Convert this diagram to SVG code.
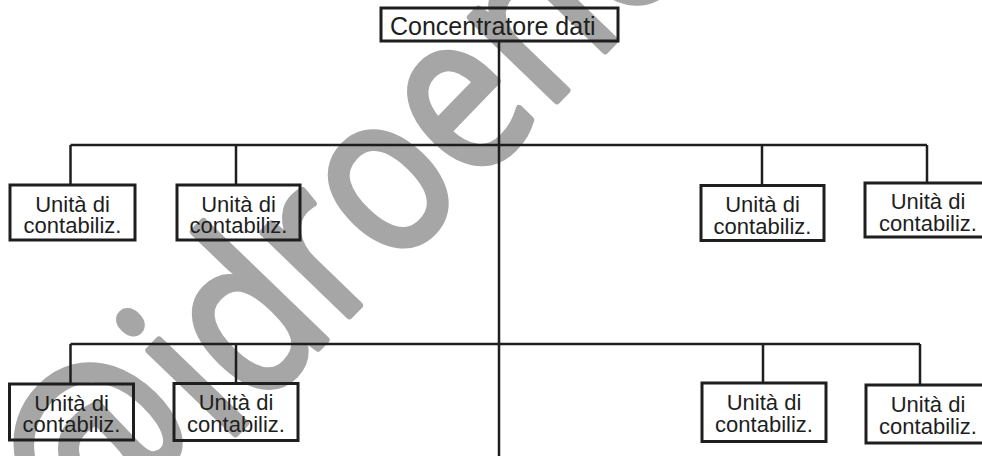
<svg xmlns="http://www.w3.org/2000/svg" width="982" height="456" viewBox="0 0 982 456">
<style>
.box{fill:none;stroke:#1e1e1e;stroke-width:3}
.ln{fill:none;stroke:#1e1e1e;stroke-width:2.5}
.t{font-family:"Liberation Sans",Arial,sans-serif;font-size:22px;fill:#1e1e1e;text-anchor:middle}
.wm{font-family:"Open Sans","Liberation Sans",sans-serif;font-size:190px;font-weight:400;fill:#a6a6a6;stroke:#a6a6a6;stroke-width:6;stroke-linejoin:round}
</style>
<rect width="982" height="456" fill="#fff"/>
<text class="wm" transform="translate(96,578) rotate(-46) scale(1,1.18)"><tspan font-size="205">@</tspan>idroenergia</text>
<g id="connectors">
<path class="ln" d="M499,41 V456"/>
<path class="ln" d="M70.5,145 H927 M70.5,145 V185 M236,145 V185 M762,145 V185 M927,145 V183"/>
<path class="ln" d="M70.5,344 H920 M70.5,344 V384 M236,344 V384 M763,344 V383 M920,344 V385"/>
</g>
<g id="concentratore">
<rect class="box" x="381" y="8" width="237" height="33"/>
<text x="390" y="35" style="font-family:'Liberation Sans',Arial,sans-serif;font-size:25px;fill:#1e1e1e">Concentratore dati</text>
</g>
<g id="u1"><rect class="box" x="10" y="185" width="125" height="55"/><text class="t" x="72.5" y="211.5">Unità di</text><text class="t" x="72.5" y="233">contabiliz.</text></g>
<g id="u2"><rect class="box" x="177" y="185" width="123" height="55"/><text class="t" x="238.5" y="211.5">Unità di</text><text class="t" x="238.5" y="233">contabiliz.</text></g>
<g id="u3"><rect class="box" x="701" y="185.5" width="123" height="55"/><text class="t" x="762.5" y="212">Unità di</text><text class="t" x="762.5" y="233.5">contabiliz.</text></g>
<g id="u4"><rect class="box" x="865" y="183" width="130" height="54"/><text class="t" x="928" y="209">Unità di</text><text class="t" x="928" y="230.5">contabiliz.</text></g>
<g id="u5"><rect class="box" x="9.5" y="384" width="124" height="56"/><text class="t" x="71.5" y="410.5">Unità di</text><text class="t" x="71.5" y="432">contabiliz.</text></g>
<g id="u6"><rect class="box" x="174" y="383.5" width="124" height="57"/><text class="t" x="236" y="410">Unità di</text><text class="t" x="236" y="431.5">contabiliz.</text></g>
<g id="u7"><rect class="box" x="702" y="383" width="124" height="58.5"/><text class="t" x="764" y="410">Unità di</text><text class="t" x="764" y="432">contabiliz.</text></g>
<g id="u8"><rect class="box" x="866" y="385" width="130" height="58"/><text class="t" x="928" y="412">Unità di</text><text class="t" x="928" y="434">contabiliz.</text></g>
</svg>
